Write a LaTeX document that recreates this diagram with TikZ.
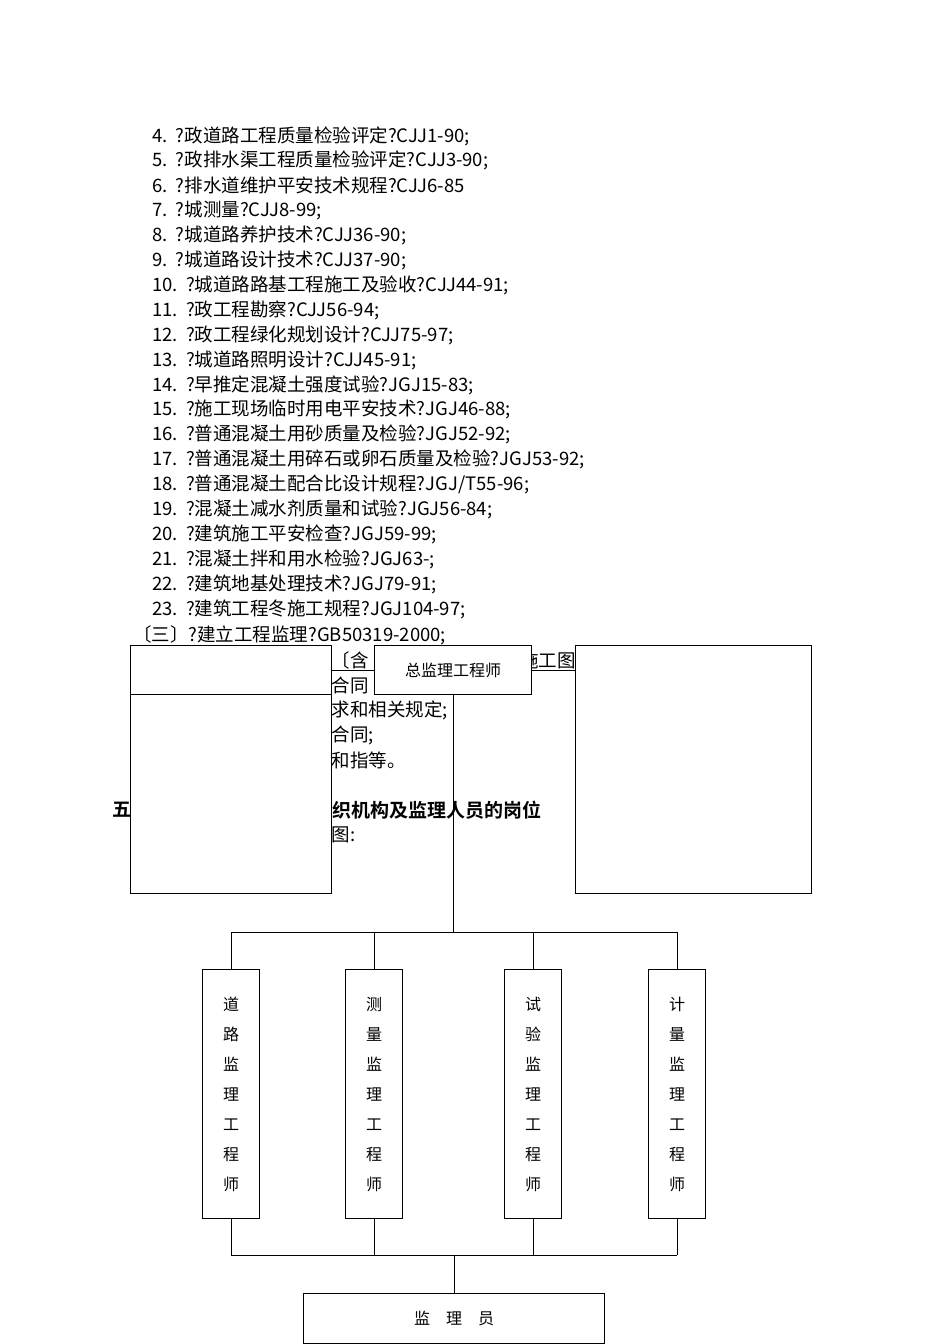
\documentclass[tikz,border=0pt]{standalone}
\usepackage{fontspec}
\setmainfont{Noto Sans CJK SC}
\newfontfamily\cjkb{Noto Sans CJK SC Bold}
\begin{document}
\begin{tikzpicture}[x=1pt,y=-1pt,
  txt/.style={anchor=west,inner sep=0pt,font=\fontsize{18.5}{18}\selectfont},
  box/.style={draw,fill=white,line width=1pt,inner sep=0pt},
  vbox/.style={draw,fill=white,line width=1pt,minimum width=57pt,minimum height=249pt,anchor=north west,inner sep=0pt,font=\fontsize{16}{30}\selectfont,align=center},
  ln/.style={line width=1pt}]
\useasboundingbox[fill=white] (0,0) rectangle (950,1344);
\foreach \t [count=\i from 0] in {4.\ \ ?政道路工程质量检验评定?CJJ1-90;,5.\ \ ?政排水渠工程质量检验评定?CJJ3-90;,6.\ \ ?排水道维护平安技术规程?CJJ6-85,7.\ \ ?城测量?CJJ8-99;,8.\ \ ?城道路养护技术?CJJ36-90;,9.\ \ ?城道路设计技术?CJJ37-90;,10.\ \ ?城道路路基工程施工及验收?CJJ44-91;,11.\ \ ?政工程勘察?CJJ56-94;,12.\ \ ?政工程绿化规划设计?CJJ75-97;,13.\ \ ?城道路照明设计?CJJ45-91;,14.\ \ ?早推定混凝土强度试验?JGJ15-83;,15.\ \ ?施工现场临时用电平安技术?JGJ46-88;,16.\ \ ?普通混凝土用砂质量及检验?JGJ52-92;,17.\ \ ?普通混凝土用碎石或卵石质量及检验?JGJ53-92;,18.\ \ ?普通混凝土配合比设计规程?JGJ/T55-96;,19.\ \ ?混凝土减水剂质量和试验?JGJ56-84;,20.\ \ ?建筑施工平安检查?JGJ59-99;,21.\ \ ?混凝土拌和用水检验?JGJ63-;,22.\ \ ?建筑地基处理技术?JGJ79-91;,23.\ \ ?建筑工程冬施工规程?JGJ104-97;}
  \node[txt] (l\i) at (152,{136+24.9*\i}) {\t};
\node[txt] (l3a) at (133,635) {〔三〕?建立工程监理?GB50319-2000;};
\node[txt] (f1) at (313,660) {计〔含};
\node[txt] (f1b) at (520,660) {施工图};
\node[txt] (f2) at (313,685) {及合同};
\node[txt] (f3) at (313,710) {要求和相关规定;};
\node[txt] (f4) at (313,735) {理合同;};
\node[txt] (f5) at (313,760) {见和指等。};
\node[txt,font=\cjkb\fontsize{19}{19}\selectfont] (f6) at (112,810) {五};
\node[txt,font=\cjkb\fontsize{19}{19}\selectfont] (f7) at (313,810) {组织机构及监理人员的岗位};
\node[txt] (f8) at (313,835) {程图:};
% top boxes
\node[box,minimum width=201pt,minimum height=248pt,anchor=north west] (lb) at (130,645) {};
\draw[ln] (130,694) -- (331,694);
\node[box,minimum width=236pt,minimum height=248pt,anchor=north west] (rb) at (575,645) {};
\node[box,minimum width=157pt,minimum height=49pt,anchor=north west,font=\fontsize{16}{16}\selectfont] (chief) at (374,645) {总监理工程师};
\draw[ln] (lb.east|-0,670) -- (chief.west|-0,670);
\draw[ln] (chief.east|-0,670) -- (rb.west|-0,670);
\coordinate (j1) at (453,932);
\draw[ln] (453,694) -- (j1);
\node[vbox] (b1) at (202,969) {道\\路\\监\\理\\工\\程\\师};
\node[vbox] (b2) at (345,969) {测\\量\\监\\理\\工\\程\\师};
\node[vbox] (b3) at (504,969) {试\\验\\监\\理\\工\\程\\师};
\node[vbox] (b4) at (648,969) {计\\量\\监\\理\\工\\程\\师};
\draw[ln] (b1.north|-j1) -- (b4.north|-j1);
\foreach \b in {b1,b2,b3,b4} {\draw[ln] (\b.north|-j1) -- (\b.north); \draw[ln] (\b.south) -- (\b.south|-0,1255);}
\draw[ln] (b1.south|-0,1255) -- (b4.south|-0,1255);
\node[box,minimum width=301pt,minimum height=50pt,anchor=north west,font=\fontsize{16}{16}\selectfont] (sup) at (303,1293) {监\quad 理\quad 员};
\coordinate (j2) at (sup.north|-0,1255);
\draw[ln] (j2) -- (sup.north);
\end{tikzpicture}
\end{document}
